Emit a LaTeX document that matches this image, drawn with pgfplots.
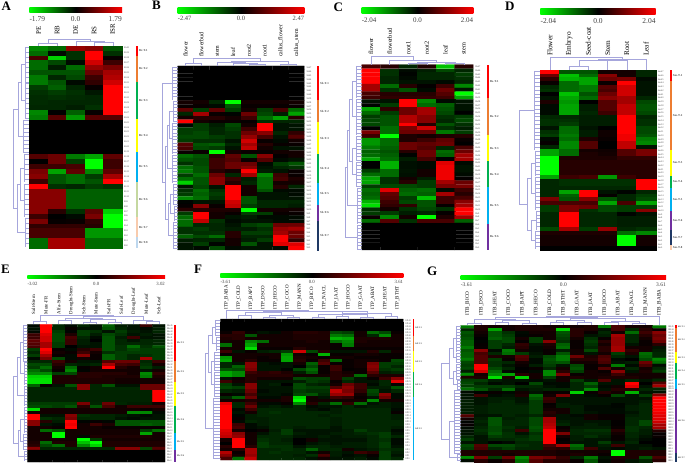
\documentclass[border=0pt]{standalone}
\usepackage{pgfplots}
\usepackage{pgfplotstable}
\usepackage{fontspec}
\setmainfont{Liberation Serif}
\pgfplotsset{compat=1.18}
\definecolor{dend}{HTML}{A6A6DC}
\definecolor{cR}{HTML}{FF0000}\definecolor{cO}{HTML}{ED7D31}\definecolor{cG}{HTML}{00B050}
\definecolor{cY}{HTML}{FFFF00}\definecolor{cB}{HTML}{00B0F0}\definecolor{cL}{HTML}{C5D8A0}
\definecolor{cP}{HTML}{F8CBAD}\definecolor{cI}{HTML}{BDD7EE}\definecolor{cV}{HTML}{7030A0}\definecolor{cN}{HTML}{1F3864}
\pgfplotstableread[header=false]{
-.6 -.5 .65 .6 -.4
-.5 -.05 -.25 1 -.25
.35 -.85 -.25 1 .05
-.5 -.35 -.05 .85 .3
-.5 -.15 -.5 .65 .55
-.4 -.4 -.4 .5 .7
-.55 -.2 -.35 .3 .75
-.55 -.4 -.05 .25 .85
-.3 -.45 -.2 .03 1
-.25 -.3 -.25 -.12 1
-.22 -.25 -.22 -.2 1
-.22 -.2 -.2 -.2 1
-.2 -.2 -.15 -.25 1
-.6 0 -.45 .03 1
-.55 .4 -.65 .4 .4
0 0 0 0 0
0 0 0 0 0
0 0 0 0 0
0 0 0 0 0
0 0 0 0 0
0 0 0 0 0
0 0 0 0 0
.4 .5 -.55 -.7 .45
0 .5 -.3 -1 .3
.3 .3 .35 -1 .3
.55 -.7 .45 -.6 .45
.6 -.4 -.5 -.3 .7
.3 -.4 -.5 -.4 1
1 -.25 -.2 -.3 -.25
.6 .6 -.45 -.45 -.45
.6 .6 -.45 -.45 -.45
.6 .6 -.45 -.45 -.45
.6 .6 -.45 -.45 -.45
.6 .2 -.25 .45 -.85
.3 0 -.05 .55 -1
.55 .03 .05 .25 -1
.25 .25 .25 .2 -1
.35 .35 .35 -.65 -.65
.35 .35 .35 -.65 -.65
-.5 .7 .7 -.5 -.5
-.5 .7 .7 -.5 -.5
}\tabA
\pgfplotstableread[header=false]{
0 0 0 0 0 0 0 0
0 0 0 0 0 0 0 0
0 0 0 0 0 0 0 0
0 0 0 0 0 0 0 0
0 0 0 0 0 0 0 0
0 0 0 0 0 0 0 0
0 0 0 0 0 0 0 0
0 0 0 0 0 0 0 0
0 0 0 0 0 0 0 0
.1 .1 -.2 -1 .1 .1 .1 .1
.05 .05 -.05 -.4 .05 .05 .05 .05
.45 -.3 .45 -.3 .1 -.3 .35 -.5
-.2 .7 .05 -.02 .5 -.35 -.15 -.7
.1 .2 .2 .1 .3 -.5 -.7 .2
1 .1 .05 .05 .03 -.25 -.2 -.2
-.02 -.3 -.15 -.35 .1 1 -.1 -.1
-.3 -.3 -.2 -.3 .3 1 -.1 -.1
-.3 -.35 -.2 -.25 .5 .6 -.2 .25
-.35 -.35 -.3 -.25 .65 .35 -.1 .4
-.3 -.25 -.25 -.1 .85 .05 -.05 .1
.4 -.4 -.45 -.2 .7 .2 .05 .05
.35 -.35 -.3 -.1 .8 .1 -.1 -.1
.05 .05 -1 .1 .05 .05 .1 .1
-.5 -.4 .2 .45 -.4 .6 .02 .1
-.4 -.35 .3 .4 .05 .4 -.05 -.1
-.25 -.35 .3 .5 .5 -.05 -.3 -.4
-.5 -.4 .3 .5 .6 -.1 -.2 -.25
-.55 -.4 .2 .1 1 -.15 -.1 .05
-.3 -.5 .5 -.2 .7 -.6 .3 .05
-.5 -.4 .6 .3 -.15 -.5 .35 .15
-.85 -.4 .6 .2 -.2 -.5 .1 .1
-.1 -.35 -.1 1 .1 -.5 .2 -.2
-.25 -.5 -.25 1 .1 -.4 -.05 -.05
-.3 -.45 -.3 1 .1 -.1 -.1 -.05
-.6 -.5 -.25 1 -.4 -.1 -.1 -.1
-.02 -.1 -.1 .85 -.4 -.2 -.2 -.2
.03 .6 .05 .8 -.3 -.2 -.2 -.15
.2 .2 .15 .15 -1 .1 .1 .1
-.3 1 .1 .05 -.3 -.3 .05 .05
-.5 1 .1 -.1 -.15 -.05 -.05 -.05
-.5 .8 -.25 -.05 -.1 -.1 -.05 -.05
-.5 -.2 -.2 -.1 -.3 -.35 .5 .5
-.25 -.3 -.2 -.15 -.15 -.25 .65 .7
-.25 -.25 -.25 .2 -.3 -.3 .7 .5
-.45 -.35 -.5 .2 -.2 -.2 1 .5
-.15 -.2 -.2 .1 -.15 -.3 1 .25
-.1 -.3 -.02 .1 -.4 -.1 .9 .9
-.1 -.05 -.35 -.05 -.1 -.1 -.05 1
}\tabB
\pgfplotstableread[header=false]{
.35 .2 -.2 .15 -.8 .2
1 -.25 -.05 -.15 -.35 -.2
1 -.25 -.02 -.2 -.2 -.3
1 -.2 -.05 -.2 -.2 -.25
1 -.2 -.1 -.1 -.05 -.2
.7 -.5 .2 .02 .3 -.6
.7 -.25 -.4 -.05 .5 -.1
.35 .2 .2 .2 .4 -1
.3 .25 .25 .25 .3 -.7
-.1 -.1 1 -.6 -.05 -.1
-.02 -.3 1 -.5 -.45 -.1
-.7 .25 .5 .7 -.4 -.1
-.5 -.3 .5 .7 -.35 0
-.3 -.4 .75 .6 -.25 -.3
-.35 -.4 .75 .6 -.2 -.35
-.35 -.4 1 .2 -.4 -.25
0 -.5 .55 .85 -.25 -.15
.55 -.5 .5 .5 -.55 -.3
.3 -1 .15 .1 .15 .2
-.65 -.5 .15 .3 .45 .05
-.65 -.5 .5 .45 .5 0
-.55 -.45 .5 .4 -.2 .35
-.45 -.4 .2 .5 -.5 .5
-.5 -.45 -.02 .5 -.45 .7
-.7 -.5 -.15 .35 0 .7
0 -.75 -.08 -.05 .9 -.05
0 -.75 -.08 -.05 .95 -.1
-.3 -.5 -.1 .1 .95 -.1
-.5 -.5 -.08 .1 .95 -.05
-.7 -.25 .1 -.15 .95 .02
-.7 -.25 .2 -.3 .7 .5
-.3 -.35 -.35 -.3 .55 .55
-.5 .9 -.45 -.5 -.05 .3
-.45 .45 -.5 -.45 .7 .2
-.5 .4 -.3 -.8 .3 .35
-.75 .3 -.35 -.4 .3 .6
-.9 .25 .25 -.4 .03 .7
-.25 .1 -.25 -.35 -.25 1
-.3 -.3 -.15 -.2 .03 1
.05 -.6 .1 -1 .15 .7
-.5 .4 -.25 .35 .35 -.45
0 0 0 0 0 0
0 0 0 0 0 0
0 0 0 0 0 0
0 0 0 0 0 0
0 0 0 0 0 0
0 0 0 0 0 0
0 0 0 0 0 0
}\tabC
\pgfplotstableread[header=false]{
1 -.4 -.4 .1 .1 -.2
.5 -.8 -.5 .6 .1 -.2
.25 -.75 -.7 .5 .55 -.05
.05 -.5 -.7 .05 1 -.1
-.2 -.5 -.55 .4 .85 -.1
-.25 -.5 -.55 .35 .85 -.1
0 -.8 -.4 .5 .85 -.1
-.1 -.7 -.5 .6 .7 -.2
.15 -.65 0 .4 .7 -.35
-.05 -.7 -.15 .4 .8 -.4
-.05 -.7 -.15 .4 .8 -.4
-.05 -.7 -.2 .3 .8 -.35
-.2 -.2 -.15 -.15 1 -.2
-.25 -.25 -.15 -.15 1 -.25
-.25 -.3 -.15 -.15 1 -.25
-.1 -.5 -.1 0 1 -.35
-.25 -.5 -.15 .08 1 -.35
-.3 -.55 -.15 .08 .95 -.4
-.05 -.5 .15 .05 .95 -.55
.03 -.6 .4 0 .8 -.6
-.2 -.6 .4 0 .8 -.1
-.7 -.5 .1 .08 .4 .55
-.7 -.5 .15 .1 .4 .55
-1 .15 .15 .15 .25 .25
-1 .2 .2 .2 .2 .2
-1 .2 .2 .2 .2 .2
-1 .2 .2 .2 .2 .2
-1 .2 .2 .2 .2 .2
-.7 .3 .35 -.65 .3 .2
-.2 -.25 -.25 -.25 -.25 1
-.2 -.25 -.25 -.25 -.25 1
-.2 -.2 -.2 -.2 -.2 1
-.2 -.7 1 -.1 -.02 -.2
-.2 -.45 1 .03 -.2 -.3
.55 -.4 .6 -.4 -.2 -.35
.35 .35 .35 -.7 .35 -.7
-.3 .55 .5 -.35 -.3 -.3
-.3 .55 -.25 -.35 -.3 .6
-.2 1 -.2 -.2 -.02 -.1
-.2 1 -.2 -.2 -.15 -.15
-.2 1 -.2 -.2 -.15 -.15
-.2 1 -.2 -.2 -.15 -.15
-.35 .7 -.3 .65 -.2 -.25
.15 .15 .15 .15 -.5 -.6
.1 .1 .1 .1 -1 .1
.1 .1 .1 .1 -1 .1
.1 .1 .1 .1 -1 .1
0 0 0 0 0 0
}\tabD
\pgfplotstableread[header=false]{
-.05 1 -.2 -.05 -.2 -.1 -.45 -.15 -.1 .3 -.1
-.1 1 -.2 .05 -.1 -.1 -.4 -.2 -.1 -.05 -.15
-.05 1 -.3 -.02 -.3 -.25 -.1 -.3 -.15 -.1 -.2
.3 .9 -.35 .15 -.3 -.15 -.35 -.25 -.1 -.15 -.1
.3 .85 -.35 .35 -.2 -.05 -.4 -.15 .3 -.1 -.1
.45 .85 -.35 .3 -.15 0 -.4 -.2 -.1 -.2 -.2
.4 .7 -.3 .3 -.15 -.1 -.4 -.2 -.2 -.2 -.2
.35 .7 -.3 0 -.1 -.1 -.4 -.25 -.5 -.25 -.4
-.3 1 .05 -.05 .2 .3 -.4 -.25 -.35 -.3 -.3
-.2 .9 .1 .05 .3 .1 -.25 -.3 -.3 -.3 -.3
-.3 .7 .05 -.05 .6 .05 -.45 -.3 -.2 -.25 -.3
-.05 .55 -.35 -.05 .1 .05 -.45 -.3 -.2 .7 -.3
-.2 -.2 .3 .1 -.1 -.1 .4 .5 .5 -.2 .3
-.35 -.35 .2 -.2 -.15 -.2 .7 .35 .3 -.25 .1
-.3 -.5 .1 -.5 .03 .1 1 .2 .1 -.3 -.15
-.5 -.35 .05 -.6 -.02 .1 .1 .1 .1 -.1 .1
-.6 -.6 -.3 -.35 .2 .2 .2 .2 .1 -.6 .25
-.85 -.85 .15 .15 .2 .2 .15 .15 .15 -.55 .15
-.9 -.9 .15 .15 .15 .15 .15 .1 .1 .1 .1
-.9 -.9 .15 .15 .15 .15 .15 .1 .1 .1 .1
-.45 .03 -.1 -.4 .6 -.2 -.4 -.1 -.1 .5 .5
-.2 -.2 -.2 -.2 .6 -.2 -.2 -.2 -.2 .5 .5
-.18 -.18 -.18 -.18 -.18 -.18 -.18 -.18 -.18 -.18 1
-.18 -.18 -.18 -.18 -.18 -.18 -.18 -.18 -.18 -.18 1
-.18 -.18 -.18 -.18 -.18 -.18 -.18 -.18 -.18 -.18 1
-.18 -.18 -.18 -.18 -.18 -.18 -.18 -.18 -.18 -.18 1
-.3 -.3 -.3 -.3 .55 -.2 .5 -.2 -.15 -.15 .1
-.35 -.35 -.3 -.4 .2 -.4 .35 .1 .3 .3 .3
-.9 .1 .1 .1 .1 .1 .1 .1 .1 .05 .1
.1 .1 .1 .1 .1 .1 .1 .1 -.6 -.6 -.05
1 -.1 -.1 .6 -.25 -.2 -.2 -.15 -.1 -.05 -.1
1 -.25 -.2 .55 -.2 -.2 -.2 -.1 -.05 -.1 -.1
.6 .2 -.15 1 -.02 .03 -.03 -.4 -.4 -.4 -.4
.6 -.1 -.05 .95 .1 .3 .15 -.4 -.4 -.45 -.4
.1 .1 .05 1 .1 .1 .05 .05 .05 .05 .05
.1 -.5 -.4 .1 .1 .1 .1 .1 .1 -.3 -.5
.1 .1 -1 .1 .1 .1 .1 .1 .1 -.7 .1
.1 .1 -1 .1 -.05 .15 .15 .15 .15 .15 .1
.1 .1 .1 .1 -1 -.3 .1 .1 .1 .1 .1
.15 -.5 .15 .15 -.8 -1 .15 .15 .15 .15 .15
.2 -.35 -.5 .15 -.6 -.85 .15 .15 .15 .15 .15
.6 -.2 -.2 -.2 -.2 -.2 -.2 .6 .6 -.35 .4
0 0 0 0 0 0 0 0 0 0 0
0 0 0 0 0 0 0 0 0 0 0
0 0 0 0 0 0 0 0 0 0 0
0 0 0 0 0 0 0 0 0 0 0
}\tabE
\pgfplotstableread[header=false]{
0 0 0 0 0 0 0 0 0 0 0 0 0 0 0
0 0 0 0 0 0 0 0 0 0 0 0 0 0 0
0 0 0 0 0 0 0 0 0 0 0 0 0 0 0
0 0 0 0 0 0 0 0 0 0 0 0 0 0 0
.05 .25 .05 -.1 -.05 .1 .2 .2 .15 -.35 -.3 .1 -.5 -.35 .05
.2 .2 -.4 .1 .1 .1 .15 .15 .15 -.55 -.5 .1 -.2 -.6 .1
.15 .2 .1 .1 .1 .1 .15 .15 .15 -.75 -.7 .15 .15 .15 .1
.1 .1 -.6 -.5 .1 .1 .1 .15 .1 -.5 -.6 .15 .1 .1 .1
-.5 .1 -.7 .1 .1 .1 .1 .1 .1 .05 -.55 .1 .1 .1 .1
.1 .1 -.9 .05 .05 .05 .2 .1 .1 .05 .05 .05 .05 .05 .05
.3 -.1 .05 -.15 -.2 -.3 .85 -.35 .2 -.1 -.1 -.1 .2 -.2 .1
.05 .1 .1 .1 .1 -.65 .1 .05 -.75 .05 .05 .1 .1 .05 .05
-.65 .1 .1 .05 .1 -.7 .15 .1 .05 .1 .1 .05 .05 .05 .05
-.7 .1 .2 .05 .05 -.7 .2 .05 .3 -.5 .05 .1 .1 .05 -.35
-.2 -.1 .6 -.1 -.05 -.1 .1 -.45 .4 .05 .05 .1 .55 -.3 -.3
-.2 -.45 .6 -.1 -.1 -.1 0 -.35 .05 .3 .05 .1 .6 -.3 -.2
-.4 -.35 .55 -.1 -.1 -.02 -.35 -.5 .05 .3 .02 .05 .55 -.25 -.3
-.7 -.6 .3 .2 .25 .15 -.15 -.4 .05 .2 .1 .05 .4 -.15 -.2
-.7 -.6 .2 .2 .2 .2 .1 .1 .1 .2 .15 -.5 .2 .15 .15
-.1 .05 .2 .1 .1 .1 -.35 -.3 -.3 .2 -.3 -.1 .05 .3 .6
.3 .1 .2 -.1 -.1 -.1 -.15 -.3 -.25 .05 -.2 -.1 -.1 -.2 .9
-.3 -.1 .6 -.1 -.15 0 -.35 -.2 -.15 .1 .5 .3 -.05 -.2 .05
-.35 -.3 .6 -.1 -.1 -.1 -.35 -.3 -.3 .4 .6 .3 -.15 -.15 -.4
-.2 -.15 .5 -.05 -.1 -.1 -.3 -.25 -.25 .8 .55 .25 -.35 -.1 -.2
.05 -.05 .35 -.1 -.1 -.05 -.35 -.4 -.2 .65 .65 .1 -.3 .6 -.05
-.2 -.45 .5 -.05 -.05 .15 -.9 .1 -.1 .3 .25 .05 -.1 .5 -.05
.1 .1 .15 .1 .1 .15 -1 .1 .1 .1 .1 .1 -.6 .1 .1
.9 -.2 .3 -.05 -.05 .05 -.6 .2 -.2 -.5 .25 -.5 -.1 -.15 -.1
1 -.2 .5 -.1 -.15 -.1 -.2 -.05 -.1 -.1 -.2 -.1 -.15 -.15 -.1
1 -.05 .3 -.2 -.2 -.2 -.2 -.1 -.05 -.15 -.2 -.2 -.2 -.2 -.05
1 -.1 .1 -.2 -.25 -.2 -.2 -.2 -.2 -.15 -.2 -.2 -.2 -.2 .05
1 -.03 -.15 -.2 -.2 -.2 -.2 -.2 -.15 -.2 -.2 -.2 -.2 -.2 -.15
1 .05 -.15 -.15 -.2 -.2 -.2 -.2 -.2 -.15 -.2 -.2 -.2 -.2 -.15
1 -.05 -.2 -.15 -.2 -.2 -.2 -.2 -.2 -.15 -.2 -.2 -.2 -.2 -.2
1 .3 -.05 -.15 -.2 -.2 -.2 -.2 -.2 -.15 -.2 -.2 -.2 -.2 -.2
1 .35 -.05 -.1 -.2 -.2 -.15 -.2 -.2 -.1 -.2 -.2 -.2 -.2 -.15
.9 .1 0 .05 -.15 -.3 -.1 -.1 -.1 -.1 -.15 -.3 -.2 -.2 -.05
.85 .6 .1 -.1 -.2 -.3 -.15 -.1 -.1 -.15 -.15 -.2 -.25 -.3 -.1
.8 .65 .1 -.2 -.2 -.2 -.1 -.1 -.15 -.1 -.15 -.15 -.2 -.3 -.2
.1 1 .1 -.25 -.2 -.15 0 .1 -.1 -.1 -.1 -.1 -.2 -.25 -.05
0 1 .1 -.3 -.2 -.2 0 -.1 -.15 -.1 -.15 -.15 -.2 -.3 -.05
.2 1 .2 -.3 -.25 -.25 -.1 -.2 -.2 -.15 -.15 -.15 -.2 -.3 -.1
.1 .2 .7 -.2 -.2 -.25 -.2 -.45 -.2 -.2 .1 -.1 -.15 -.25 -.2
.75 .05 .7 -.2 -.25 -.2 -.2 -.1 .1 -.15 -.1 .3 .2 -.3 -.15
.6 .1 .65 -.2 -.2 -.2 -.15 -.25 .35 -.15 -.05 -.1 .05 -.3 -.1
.35 -.5 .8 -.2 -.2 -.2 -.2 -.1 .1 -.1 -.1 -.15 -.05 -.3 -.2
}\tabF
\pgfplotstableread[header=false]{
-.55 .15 .1 .1 .15 .15 .1 .1 .1 .15 -.55 .35 .1 .1 -.55
-.2 .15 -.7 .1 .15 .15 .15 -.85 .2 .15 -.1 .35 -.2 .2 .05
-.4 .1 -.4 -.25 -.05 .1 .1 -.4 .2 .05 -.2 .1 -.5 .3 .6
-.35 .05 -.4 -.3 -.03 .05 .1 -.35 .2 -.1 -.15 .7 -.2 .2 .5
-.4 0 -.45 -.35 .1 -.3 .1 -.3 .1 -.25 .05 .65 -.2 .1 .55
-.45 -.02 -.3 -.35 .03 -.3 .6 -.25 .05 -.3 .2 .65 -.2 .05 .5
-.45 .03 -.3 -.2 .25 -.1 .15 -.45 .05 -.25 .1 .65 -.1 .05 .2
-.55 .05 -.3 -.15 .2 -.05 .1 -.5 .05 -.2 .2 .7 .1 .1 -.1
-.4 .6 -.05 -.55 .1 -.05 .05 -.15 .1 -.35 .2 .7 .25 .1 -.15
-.45 .35 -.2 -.5 -.3 -.1 .05 -.4 .1 -.1 .1 -.3 .15 -.5 -.2
-.45 .4 .15 .1 .4 -.15 -.35 -.55 .5 .15 .35 -.2 -.1 -.45 -.2
-.55 .4 -.3 .05 .35 -.05 -.4 -.55 .2 .2 .4 -.05 0 -.35 -.6
-.35 .4 -.25 -.2 .1 -.05 -.35 -.4 .1 .1 .35 -.1 -.15 .5 -.5
-.3 1 -.25 -.1 .05 -.15 -.3 -.1 -.35 .05 .1 -.55 -.05 .35 -.05
-.35 1 -.35 -.2 0 .05 -.2 .1 -.4 .05 .4 .1 -.2 .1 -.2
-.15 .85 -.5 -.05 .03 -.05 -.6 .2 -.3 .1 .05 .6 -.1 .15 -.3
-.6 .1 -.6 -.7 .2 .1 -.6 .55 .05 .1 .1 .3 .1 .1 .1
.15 .15 -.9 .15 -.85 .1 -.3 .1 .15 .1 .15 .15 .15 .1 .1
-.3 -.3 -.15 -.1 -.1 -.05 -.1 .1 -.3 -.1 .4 -.1 -.2 -.1 -.2
-.35 -.2 -.05 -.1 0 -.35 -.05 -.05 -.2 -.45 -.1 -.1 1 0 .4
-.3 -.3 -.3 -.3 -.2 -.2 -.1 -.05 -.2 -.3 -.05 .1 .9 -.1 .7
-.5 -.4 -.2 -.5 -.1 -.15 -.2 -.2 -.2 -.6 -.1 .2 .2 -.2 -.2
-.05 -.02 .05 -.05 .1 -.1 .05 .05 -.85 .05 .2 .1 -.75 -.1 -.1
-.1 .3 -.05 -.1 .15 -.5 .1 .55 -.1 -.05 .05 -.35 -.1 -.3 .6
-.1 -.1 -.15 -.15 -.1 -.4 .3 -.1 -.1 -.1 -.1 -.1 -.1 -.1 1
-.15 -.1 -.15 -.2 -.1 -.3 .25 -.1 -.1 -.1 -.1 -.1 -.1 -.15 1
-.15 -.1 -.2 -.2 -.15 -.3 .02 -.15 -.1 -.1 -.1 -.03 -.1 -.2 1
-.15 -.15 -.2 -.2 -.2 -.3 .05 -.15 -.15 -.05 -.05 -.03 -.15 -.2 1
-.15 -.15 -.2 -.2 -.2 -.3 .1 .1 -.15 -.05 -.05 -.05 -.15 -.2 1
-.15 -.15 -.2 -.2 -.2 -.3 .2 .1 -.15 -.1 -.05 -.05 -.1 -.2 .95
.4 -.1 -.1 -.2 -.15 -.2 .15 -.1 -.05 .1 .05 .05 -.15 -.2 .9
.1 -.15 -.4 -.15 -.2 -.35 .7 -.1 -.1 .1 .05 .05 -.2 -.2 .9
-.02 -.2 -.4 -.2 -.2 -.35 .7 -.15 -.1 -.1 -.1 .02 -.2 -.35 .85
.03 -.15 -.4 -.2 -.2 -.35 .75 -.2 -.1 -.15 -.1 .02 -.2 -.35 .7
-.05 -.2 -.35 -.25 -.15 -.4 .8 .05 -.15 -.15 -.15 .05 -.25 -.2 .7
-.1 -.25 -.35 -.2 .3 -.35 1 .1 -.2 -.25 -.25 .2 -.25 -.15 .2
-.1 -.2 -.4 -.25 -.1 -.25 1 .55 -.2 -.2 -.2 .1 -.2 -.15 .03
-.2 -.1 -.3 -.25 -.2 -.3 1 .1 -.15 -.25 -.15 .05 -.2 -.1 .05
-.3 -.1 -.2 -.2 -.25 -.3 1 .02 -.15 -.1 -.1 .05 -.15 -.05 0
-.1 -.1 0 -.05 -.2 -.2 1 .05 -.1 -.1 -.3 -.1 -.2 0 0
-.35 .4 -.35 -.35 -.25 -.2 .35 .7 -.5 -.1 -.15 .3 -.1 -.1 0
-.3 .35 -.2 -.3 -.2 -.2 .25 .2 -.4 .3 -.1 -.05 -.1 -.15 -.1
.15 .15 .15 .15 .15 .15 .15 .1 .1 .1 .1 -1 .15 .15 .15
.15 .15 .15 .1 .15 .15 .15 .1 .15 .1 .05 -1 .15 .15 .15
-.6 .55 -.3 .5 -.6 .55 .5 .25 -.2 -.55 -.1 .15 .15 -.4 .35
-.05 .2 .05 .2 -.5 .4 .2 .2 .05 -.4 -.05 .1 -.1 -.2 .2
}\tabG
\newcommand\buildhm[1]{%
 \pgfplotstablegetrowsof{#1}\edef\NR{\pgfplotsretval}%
 \pgfplotstablegetcolsof{#1}\edef\NC{\pgfplotsretval}%
 \gdef\hmc{}%
 \pgfmathtruncatemacro\lastr{\NR-1}\pgfmathtruncatemacro\lastc{\NC-1}%
 \foreach \ri in {0,...,\lastr}{%
  \pgfmathtruncatemacro\yy{\lastr-\ri}%
  \foreach \ci in {0,...,\lastc}{%
   \edef\tmp{\noexpand\pgfplotstablegetelem{\ri}{[index]\ci}\noexpand\of\noexpand#1}\tmp
   \xdef\hmc{\hmc (\ci,\yy)[\pgfplotsretval] }%
  }}}
% table, x0,y0,x1,y1 (pixels), column names, row prefix, column font size, label gap
\newcommand\panel[9]{%
 \buildhm{#1}%
 \pgfmathsetmacro\WW{#4-#2}\pgfmathsetmacro\HH{#5-#3}\pgfmathsetmacro\YB{463-#5}%
 \pgfmathsetmacro\XHI{\NC-0.5}\pgfmathsetmacro\YHI{\NR-0.5}%
 \begin{axis}[at={(#2pt,\YB pt)},anchor=south west,scale only axis,width=\WW pt,height=\HH pt,
   xmin=-0.5,xmax=\XHI,ymin=-0.5,ymax=\YHI,
   colormap={grk}{rgb255=(0,255,0) rgb255=(0,178,0) rgb255=(0,107,0) rgb255=(0,48,0) rgb255=(0,0,0) rgb255=(48,0,0) rgb255=(107,0,0) rgb255=(178,0,0) rgb255=(255,0,0)},
   point meta min=-1,point meta max=1,
   axis line style={draw=none},major tick length=0pt,
   xtick={0,...,\lastc},xticklabels={#6},xticklabel pos=upper,
   x tick label style={rotate=90,anchor=west,inner sep=0pt,xshift=#9pt,font=\fontsize{#8}{#8}\selectfont},
   ytick={0,...,\lastr},yticklabel pos=right,yticklabel={#7\ticknum},
   y tick label style={anchor=west,inner sep=0pt,xshift=2pt,text=black!70,font=\fontsize{2.4}{2.4}\selectfont},
   clip=false]
  \edef\tmp{\noexpand\addplot[matrix plot*,shader=faceted,faceted color=mapped color,line width=0.1pt,mesh/cols=\NC,point meta=explicit] coordinates {\hmc};}\tmp
 \end{axis}}
\tikzset{dd/.style={draw=dend,line width=0.4pt}}
\newcommand\bk[5]{\draw[dd] (#2,#3)--(#1,#3)--(#1,#5)--(#4,#5);}
\newcommand\tb[5]{\draw[dd] (#3,#2)--(#3,#1)--(#5,#1)--(#5,#4);}
\newcommand\cl[5]{\draw[dd] (#1,#3)--(#1,#4);\pgfmathsetmacro\qn{#3+#5}\foreach \q in {#3,\qn,...,#4}{\draw[dd] (#1,\q)--(#2,\q);}}
\newcommand\cbar[7]{\shade[left color=green,right color=red,middle color=black] (#1,#3) rectangle (#2,#4);
 \node[font=\fontsize{#7}{#7}\selectfont,anchor=west,inner sep=0pt,black!75] at (#1,#5) {-#6};
 \node[font=\fontsize{#7}{#7}\selectfont,inner sep=0pt,black!75] at ({(#1+#2)/2},#5) {0.0};
 \node[font=\fontsize{#7}{#7}\selectfont,anchor=east,inner sep=0pt,black!75] at (#2,#5) {#6};}
\newcommand\stp[6]{\foreach \a/\b/\col/\n in {#6}{\fill[\col] (#1,{\a/3+#3}) rectangle ({#1+#2},{\b/3+#3});
 \node[font=\bfseries\fontsize{#5}{#5}\selectfont,anchor=west,inner sep=0pt,black!70] at ({#1+#2+0.8},{(\a+\b)/6+#3}) {#4-T-\n};}}
\begin{document}
\begin{tikzpicture}
\useasboundingbox (0,0) rectangle (685pt,463pt);
\panel{\tabA}{29.3}{45.7}{122}{248.3}{PE,RB,DE,RS,ISR}{Br}{6.9}{10.7}
\panel{\tabB}{177.7}{66}{304.3}{250}{flower,flowerbud,stem,leaf,root2,root1,callus\_flower,callus\_stem}{Sb}{5.9}{9}
\panel{\tabC}{361.7}{64.7}{473.3}{250}{flower,flowerbud,root1,root2,leaf,stem}{Bs}{6.3}{10}
\panel{\tabD}{540.3}{70}{655.7}{250}{Flower,Embryo,Seed-coat,Stem,Root,Leaf}{Sm}{7.3}{14}
\panel{\tabE}{27.3}{324.3}{165}{462}{Salt-Stem,Mute-FR,Alfa-Stem,Drought-Stem,Sch-Stem,Mute-Stem,Salt-FR,Salt-Leaf,Drought-Leaf,Mute-Leaf,Sch-Leaf}{Ms}{4.8}{10}
\panel{\tabF}{220.3}{319}{403.3}{460}{ITP\_BABA,ITP\_COLD,ITP\_BAPT,ITP\_DSCO,ITP\_HECO,ITP\_COCO,ITP\_MANN,ITP\_BICO,ITP\_NACL,ITP\_IAAT,ITP\_HOCO,ITP\_GAAT,ITP\_ABAT,ITP\_HEAT,ITP\_BTHT}{ItP}{5}{9.7}
\panel{\tabG}{460.7}{325.3}{666}{462}{ITB\_BICO,ITB\_DSCO,ITB\_HEAT,ITB\_COCO,ITB\_BAPT,ITB\_HECO,ITB\_COLD,ITB\_BTHT,ITB\_GAAT,ITB\_IAAT,ITB\_HOCO,ITB\_ABAT,ITB\_NACL,ITB\_MANN,ITB\_BABA}{ItB}{5.2}{10}
\begin{scope}[x=1pt,y=-1pt,yshift=463pt]
\cbar{29.3}{122}{7.7}{12.7}{19}{1.79}{7.5}
\cbar{177.7}{304.3}{8}{13.3}{18.7}{2.47}{6.5}
\cbar{361.7}{473.3}{8}{13.7}{20}{2.04}{7}
\cbar{540.3}{655.7}{8.3}{14.3}{20.7}{2.04}{7.5}
\cbar{27.3}{165}{275.3}{279}{283.7}{3.02}{4.8}
\cbar{220.3}{403.3}{274}{277.7}{282}{3.61}{4.8}
\cbar{460.7}{666}{276}{280}{285}{3.61}{5.5}
\foreach \lt/\lx/\ly in {A/1.5/11,B/152/10,C/333.5/12,D/505/11,E/1/274,F/194/274,G/427/276}{\node[font=\bfseries\fontsize{13}{13}\selectfont,anchor=base west,inner sep=0pt] at (\lx,\ly) {\lt};}
\stp{136}{2.2}{0}{Br}{3}{137/168/cR/1,168/245/cO/2,245/358/cG/3,358/457/cY/4,457/545/cB/5,545/652/cL/6,652/712/cP/7,712/745/cI/8}
\stp{317}{2.2}{0}{Sb}{3}{198/300/cR/1,300/367/cO/2,367/462/cY/3,462/548/cG/4,548/614/cB/5,614/662/cV/6,662/753/cN/7}
\stp{487}{2.2}{0}{Bs}{3}{196/295/cR/1,295/405/cO/2,405/484/cY/3,484/562/cG/4,562/672/cB/5,672/750/cV/6}
\stp{669.5}{2.4}{0}{Sm}{3}{210/243/cR/1,243/450/cO/2,450/528/cY/3,528/563/cG/4,563/633/cB/5,633/690/cV/6,690/735/cN/7,735/750/cP/8}
\stp{174}{1.8}{260}{Ms}{2.4}{195/303/cR/1,303/366/cO/2,366/437/cY/3,437/520/cG/4,520/570/cB/5,570/606/cV/6}
\stp{412.7}{1.5}{260}{ItP}{2.2}{177/227/cR/1,227/273/cO/2,273/335/cY/3,335/412/cG/4,412/600/cB/5}
\stp{675}{1.8}{260}{ItB}{2.2}{196/204/cR/1,204/276/cO/2,276/308/cY/3,308/358/cG/4,358/388/cB/5,388/578/cV/6,578/606/cN/7}
% left dendrograms
\cl{25}{29.3}{47}{82}{5}\cl{25}{29.3}{83}{118}{5}\cl{23}{29.3}{120}{152}{4}\cl{24}{29.3}{154}{182}{5}\cl{24}{29.3}{184}{217}{5}\cl{25}{29.3}{218}{247}{5}
\bk{21}{25}{64.5}{25}{100}\bk{18}{21}{82}{23}{136}\bk{20}{24}{168}{24}{200}\bk{17}{20}{184}{25}{232}\bk{13}{18}{109}{17}{208}
\cl{172}{177.7}{67}{100}{3.3}\cl{173}{177.7}{101}{122}{3.3}\cl{172}{177.7}{123}{154}{3.3}\cl{172}{177.7}{155}{183}{3.3}\cl{173}{177.7}{184}{205}{3.3}\cl{174}{177.7}{206}{221}{3.3}\cl{173}{177.7}{222}{249}{3.3}
\bk{169}{173}{111}{172}{138}\bk{167}{169}{125}{172}{168}\bk{170}{173}{194}{174}{213}\bk{168}{170}{203}{173}{235}\bk{165}{167}{146}{168}{219}\bk{162}{172}{83}{165}{182}
\cl{356}{361.7}{66}{98}{3.4}\cl{356}{361.7}{99}{135}{3.4}\cl{356}{361.7}{136}{161}{3.4}\cl{356}{361.7}{162}{187}{3.4}\cl{357}{361.7}{188}{224}{3.4}\cl{357}{361.7}{225}{249}{3.4}
\bk{352}{356}{81}{356}{116}\bk{352}{356}{148}{356}{174}\bk{349}{352}{99}{352}{161}\bk{347}{349}{130}{357}{205}\bk{345}{347}{167}{357}{237}
\cl{534}{540.3}{71}{150}{3.8}\cl{535}{540.3}{151}{176}{3.8}\cl{535}{540.3}{177}{210}{3.8}\cl{536}{540.3}{211}{230}{3.8}\cl{535}{540.3}{231}{249}{3.8}
\bk{531}{535}{163}{535}{193}\bk{531}{536}{220}{535}{240}\bk{527}{531}{178}{531}{230}\bk{519}{534}{110}{527}{204}
\cl{23}{27.3}{325}{361}{3}\cl{24}{27.3}{362}{385}{3}\cl{24}{27.3}{386}{406}{3}\cl{24}{27.3}{407}{433}{3}\cl{23}{27.3}{434}{450}{3}\cl{24}{27.3}{451}{461}{2.7}
\bk{20}{23}{342}{24}{373}\bk{17}{20}{357}{24}{395}\bk{20}{24}{419}{23}{441}\bk{18}{20}{430}{24}{456}\bk{13}{17}{376}{18}{443}
\cl{215}{220.3}{320}{336}{3}\cl{216}{220.3}{337}{351}{3}\cl{214}{220.3}{352}{371}{3}\cl{214}{220.3}{372}{397}{3}\cl{213}{220.3}{398}{459}{3}
\bk{212}{215}{327}{216}{343}\bk{211}{214}{361}{214}{384}\bk{208}{212}{335}{211}{372}\bk{205}{208}{353}{213}{428}
\cl{456}{460.7}{326}{352}{3}\cl{456}{460.7}{353}{363}{3}\cl{456}{460.7}{364}{379}{3}\cl{457}{460.7}{380}{389}{3}\cl{454}{460.7}{390}{453}{3}\cl{457}{460.7}{454}{461}{3}
\bk{453}{456}{338}{456}{357}\bk{453}{456}{371}{457}{384}\bk{449}{453}{348}{453}{378}\bk{449}{454}{421}{457}{457}\bk{441}{449}{363}{449}{439}
% top dendrograms
\tb{43}{45.7}{38.6}{45.7}{57.2}\tb{42}{45.7}{94.4}{45.7}{113}\tb{41}{45.7}{75.8}{42}{103.7}\tb{39.5}{43}{47.9}{41}{89.7}
\tb{63.5}{66}{185.6}{66}{201.4}\tb{64.5}{66}{249}{66}{264.8}\tb{63.5}{66}{233.1}{64.5}{257}\tb{62}{66}{217.3}{63.5}{245}\tb{64}{66}{280.6}{66}{296.5}\tb{61}{62}{231}{64}{288.5}\tb{58.5}{63.5}{193.5}{61}{260}
\tb{63}{64.7}{445.4}{64.7}{464}\tb{63.5}{64.7}{408.2}{64.7}{426.8}\tb{62}{63.5}{417.5}{63}{454.7}\tb{60}{64.7}{389.6}{62}{436}\tb{56}{64.7}{371}{60}{413}
\tb{66}{70}{569.2}{70}{588.4}\tb{60.5}{70}{607.6}{70}{626.9}\tb{60}{66}{578.8}{60.5}{617}\tb{59}{60}{598}{70}{646.1}\tb{57}{70}{549.9}{59}{622}
\tb{321}{324.3}{33.6}{324.3}{46.1}\tb{320}{324.3}{58.6}{324.3}{71.1}\tb{322}{324.3}{83.6}{324.3}{96.1}\tb{322}{324.3}{108.6}{324.3}{121.1}\tb{319}{322}{89.9}{322}{114.9}\tb{321}{324.3}{146.2}{324.3}{158.7}\tb{320}{324.3}{133.6}{321}{152.5}\tb{318}{320}{64.9}{319}{102}\tb{316.5}{318}{83.5}{320}{143}\tb{315}{321}{39.9}{316.5}{113}
\tb{315}{319}{238.6}{319}{250.8}\tb{317}{319}{263}{319}{275.2}\tb{317}{319}{287.4}{319}{299.6}\tb{317}{319}{311.8}{319}{324}\tb{316}{319}{336.2}{319}{348.4}\tb{317}{319}{360.6}{319}{372.8}\tb{316}{319}{385}{319}{397.2}\tb{315}{317}{269.1}{317}{293.5}\tb{314}{317}{317.9}{317}{366.7}\tb{313.5}{316}{342.3}{316}{391.1}\tb{312.5}{315}{244.7}{315}{281.3}\tb{311.5}{314}{342}{313.5}{366.7}\tb{311}{312.5}{263}{311.5}{354}\tb{310}{319}{226.4}{311}{308}
\tb{323}{325.3}{467.5}{325.3}{481.2}\tb{322}{325.3}{494.9}{325.3}{508.6}\tb{323}{325.3}{522.3}{325.3}{536}\tb{322}{325.3}{549.7}{325.3}{563.4}\tb{322}{325.3}{577.1}{325.3}{590.8}\tb{322.5}{325.3}{604.5}{325.3}{618.2}\tb{323}{325.3}{631.9}{325.3}{645.6}\tb{320.5}{322}{501.8}{323}{529.2}\tb{320}{322}{556.6}{322}{584}\tb{321}{322.5}{611.4}{323}{638.8}\tb{319}{323}{474.4}{320.5}{515.5}\tb{318.5}{320}{570.3}{321}{625}\tb{317.5}{319}{495}{318.5}{597.6}\tb{316.7}{317.5}{546.3}{325.3}{659.3}
\end{scope}
\end{tikzpicture}
\end{document}
